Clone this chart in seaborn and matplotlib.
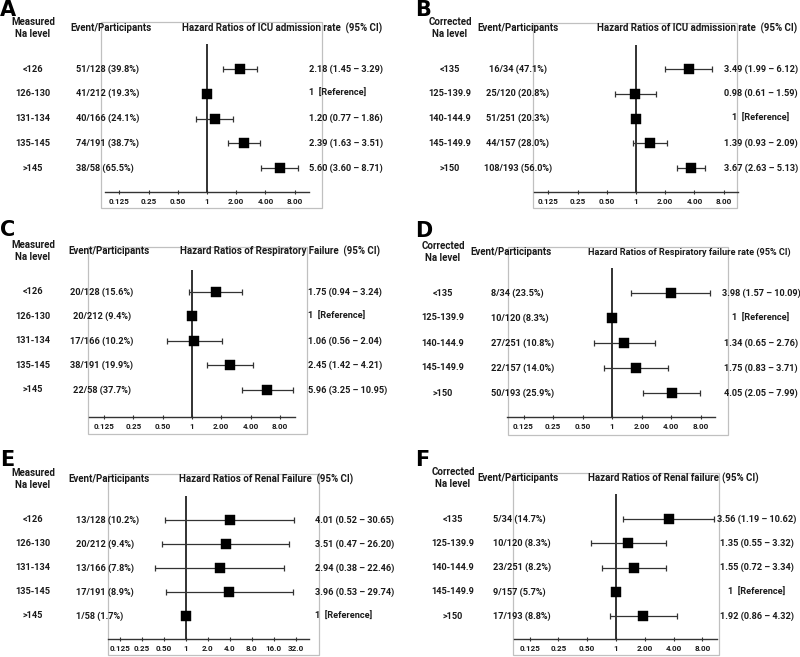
import numpy as np
import pandas as pd
import matplotlib
matplotlib.use("Agg")
import matplotlib.pyplot as plt
import matplotlib.transforms as mtransforms
from matplotlib.patches import Rectangle
from matplotlib.ticker import NullLocator
import seaborn as sns

# %%
# data
measured_levels = ["<126", "126-130", "131-134", "135-145", ">145"]
corrected_levels = ["<135", "125-139.9", "140-144.9", "145-149.9", ">150"]

a_events = ["51/128 (39.8%)", "41/212 (19.3%)", "40/166 (24.1%)", "74/191 (38.7%)", "38/58 (65.5%)"]
a_hr = [2.18, 1, 1.20, 2.39, 5.60]
a_lo = [1.45, 1, 0.77, 1.63, 3.60]
a_hi = [3.29, 1, 1.86, 3.51, 8.71]

b_events = ["16/34 (47.1%)", "25/120 (20.8%)", "51/251 (20.3%)", "44/157 (28.0%)", "108/193 (56.0%)"]
b_hr = [3.49, 0.98, 1, 1.39, 3.67]
b_lo = [1.99, 0.61, 1, 0.93, 2.63]
b_hi = [6.12, 1.59, 1, 2.09, 5.13]

c_events = ["20/128 (15.6%)", "20/212 (9.4%)", "17/166 (10.2%)", "38/191 (19.9%)", "22/58 (37.7%)"]
c_hr = [1.75, 1, 1.06, 2.45, 5.96]
c_lo = [0.94, 1, 0.56, 1.42, 3.25]
c_hi = [3.24, 1, 2.04, 4.21, 10.95]

d_events = ["8/34 (23.5%)", "10/120 (8.3%)", "27/251 (10.8%)", "22/157 (14.0%)", "50/193 (25.9%)"]
d_hr = [3.98, 1, 1.34, 1.75, 4.05]
d_lo = [1.57, 1, 0.65, 0.83, 2.05]
d_hi = [10.09, 1, 2.76, 3.71, 7.99]

e_events = ["13/128 (10.2%)", "20/212 (9.4%)", "13/166 (7.8%)", "17/191 (8.9%)", "1/58 (1.7%)"]
e_hr = [4.01, 3.51, 2.94, 3.96, 1]
e_lo = [0.52, 0.47, 0.38, 0.53, 1]
e_hi = [30.65, 26.20, 22.46, 29.74, 1]

f_events = ["5/34 (14.7%)", "10/120 (8.3%)", "23/251 (8.2%)", "9/157 (5.7%)", "17/193 (8.8%)"]
f_hr = [3.56, 1.35, 1.55, 1, 1.92]
f_lo = [1.19, 0.55, 0.72, 1, 0.86]
f_hi = [10.62, 3.32, 3.34, 1, 4.32]

ticks7 = [0.125, 0.25, 0.5, 1, 2, 4, 8]
ticklabels7 = ["0.125", "0.25", "0.50", "1", "2.00", "4.00", "8.00"]
ticks9 = [0.125, 0.25, 0.5, 1, 2, 4, 8, 16, 32]
ticklabels9 = ["0.125", "0.25", "0.50", "1", "2.0", "4.0", "8.0", "16.0", "32.0"]

# %%
W, H = 800, 657
sns.set_theme(style="white")
plt.rcParams["font.family"] = ["Roboto", "DejaVu Sans"]

fig = plt.figure(figsize=(W / 100, H / 100), dpi=100)
fig.patch.set_facecolor("white")

# layout in pixels: box, x of 1, px per doubling, first row y, row step,
# axis y, top of ref line, axis span (log2), text columns
panels = [
    dict(letter="A", title="Measured\nNa level", levels=measured_levels, events=a_events,
         hr=a_hr, lo=a_lo, hi=a_hi, ticks=ticks7, tlabels=ticklabels7,
         head="Hazard Ratios of ICU admission rate  (95% CI)", head2=None, hfs=7.0,
         box=(101, 22, 322, 208), refx=207, s=29.2, row0=69, step=24.8, axy=192, vtop=44, span=(-3.5, 3.5),
         lx=(0, 0), lvx=33, evx=76, eva="left", hrx=309, hra="left", ehx=70, hhx=182, hy=28),
    dict(letter="B", title="Corrected\nNa level", levels=corrected_levels, events=b_events,
         hr=b_hr, lo=b_lo, hi=b_hi, ticks=ticks7, tlabels=ticklabels7,
         head="Hazard Ratios of ICU admission rate  (95% CI)", head2=None, hfs=7.0,
         box=(533, 23, 737, 208), refx=636, s=29.2, row0=69, step=24.8, axy=192, vtop=45, span=(-3.5, 3.5),
         lx=(415, 0), lvx=450, evx=518, eva="center", hrx=761, hra="center", ehx=477, hhx=597, hy=28),
    dict(letter="C", title="Measured\nNa level", levels=measured_levels, events=c_events,
         hr=c_hr, lo=c_lo, hi=c_hi, ticks=ticks7, tlabels=ticklabels7,
         head="Hazard Ratios of Respiratory Failure  (95% CI)", head2=None, hfs=7.0,
         box=(88, 247, 307, 434), refx=192, s=29.3, row0=292, step=24.5, axy=417, vtop=270, span=(-3.5, 3.5),
         lx=(0, 220), lvx=33, evx=102, eva="center", hrx=308, hra="left", ehx=68, hhx=180, hy=251),
    dict(letter="D", title="Corrected\nNa level", levels=corrected_levels, events=d_events,
         hr=d_hr, lo=d_lo, hi=d_hi, ticks=ticks7, tlabels=ticklabels7,
         head="Hazard Ratios of Respiratory failure rate (95% CI)", head2=None, hfs=6.6,
         box=(508, 247, 728, 435), refx=612, s=29.5, row0=293, step=25.0, axy=417, vtop=268, span=(-3.55, 3.5),
         lx=(415, 221), lvx=443, evx=491, eva="left", hrx=761, hra="center", ehx=470, hhx=588, hy=252),
    dict(letter="E", title="Measured\nNa level", levels=measured_levels, events=e_events,
         hr=e_hr, lo=e_lo, hi=e_hi, ticks=ticks9, tlabels=ticklabels9,
         head="Hazard Ratios of Renal Failure  (95% CI)", head2=None, hfs=7.0,
         box=(108, 474, 319, 655), refx=186, s=21.9, row0=520, step=24.0, axy=639, vtop=496, span=(-3.55, 5.6),
         lx=(0, 450), lvx=33, evx=76, eva="left", hrx=315, hra="left", ehx=68, hhx=179, hy=479),
    dict(letter="F", title="Corrected\nNa level", levels=corrected_levels, events=f_events,
         hr=f_hr, lo=f_lo, hi=f_hi, ticks=ticks7, tlabels=ticklabels7,
         head="Hazard Ratios of Renal failure", head2=("(95% CI)", 722), hfs=7.0,
         box=(513, 473, 719, 655), refx=616, s=28.8, row0=519, step=24.3, axy=639, vtop=494, span=(-3.55, 3.5),
         lx=(415, 450), lvx=453, evx=493, eva="left", hrx=757, hra="center", ehx=477, hhx=588, hy=478),
]

dark = "#1a1a1a"
row_fs = 6.6
for p in panels:
    x0, y0, x1, y1 = p["box"]
    ax = fig.add_axes([x0 / W, 1 - y1 / H, (x1 - x0) / W, (y1 - y0) / H])
    ax.set_facecolor("none")

    n = len(p["hr"])
    df = pd.DataFrame({"row": np.arange(n), "hr": p["hr"], "lo": p["lo"], "hi": p["hi"]})

    # confidence intervals, reference rows have none
    ci = df[df["lo"] != df["hi"]]
    ax.errorbar(ci["hr"], ci["row"], xerr=[ci["hr"] - ci["lo"], ci["hi"] - ci["hr"]],
                fmt="none", ecolor="#333333", elinewidth=0.9, capsize=2.2, capthick=0.9, zorder=2)
    sns.scatterplot(data=df, x="hr", y="row", marker="s", s=48, color="black",
                    edgecolor="black", linewidth=0.3, ax=ax, zorder=3, legend=False)

    ax.set_xscale("log", base=2)
    ax.set_xlim(2 ** ((x0 - p["refx"]) / p["s"]), 2 ** ((x1 - p["refx"]) / p["s"]))
    ax.set_ylim((y1 - p["row0"]) / p["step"], (y0 - p["row0"]) / p["step"])
    axis_y = (p["axy"] - p["row0"]) / p["step"]
    top_y = (p["vtop"] - p["row0"]) / p["step"]

    ax.vlines(1, top_y, axis_y, color="#222222", lw=1.3, zorder=1)

    for sp in ["left", "right", "top"]:
        ax.spines[sp].set_visible(False)
    ax.spines["bottom"].set_position(("data", axis_y))
    ax.spines["bottom"].set_bounds(2 ** p["span"][0], 2 ** p["span"][1])
    ax.spines["bottom"].set_color("#333333")
    ax.spines["bottom"].set_linewidth(1.0)

    ax.set_xticks(p["ticks"])
    ax.set_xticklabels(p["tlabels"])
    ax.xaxis.set_minor_locator(NullLocator())
    ax.tick_params(axis="x", direction="inout", length=3, width=0.8, color="#333333",
                   pad=2.5, labelsize=5.8, labelcolor=dark, bottom=True)
    for t in ax.get_xticklabels():
        t.set_fontweight("bold")
    ax.set_yticks([])
    ax.set_xlabel("")
    ax.set_ylabel("")

    ax.add_patch(Rectangle((0, 0), 1, 1, transform=ax.transAxes, fill=False,
                           edgecolor="#c0c0c0", lw=0.9, clip_on=False, zorder=0))

    # text columns
    tr = mtransforms.blended_transform_factory(fig.transFigure, ax.transData)
    for i in range(n):
        ax.text(p["lvx"] / W, i, p["levels"][i], transform=tr, ha="center", va="center",
                fontsize=row_fs, fontweight="bold", color=dark)
        ax.text(p["evx"] / W, i, p["events"][i], transform=tr, ha=p["eva"], va="center",
                fontsize=row_fs, fontweight="bold", color=dark)
        if p["lo"][i] == p["hi"][i]:
            lab = "1  [Reference]"
        else:
            lab = f"{p['hr'][i]:.2f} ({p['lo'][i]:.2f} – {p['hi'][i]:.2f})"
        ax.text(p["hrx"] / W, i, lab, transform=tr, ha=p["hra"], va="center",
                fontsize=row_fs, fontweight="bold", color=dark)

    hy = 1 - p["hy"] / H
    fs = p["hfs"]
    fig.text(p["lvx"] / W, hy, p["title"], ha="center", va="center", fontsize=7.0,
             fontweight="bold", color=dark, linespacing=1.25)
    fig.text(p["ehx"] / W, hy, "Event/Participants", ha="left", va="center", fontsize=7.0,
             fontweight="bold", color=dark)
    fig.text(p["hhx"] / W, hy, p["head"], ha="left", va="center", fontsize=fs,
             fontweight="bold", color=dark)
    if p["head2"]:
        fig.text(p["head2"][1] / W, hy, p["head2"][0], ha="left", va="center", fontsize=fs,
                 fontweight="bold", color=dark)

    fig.text(p["lx"][0] / W, 1 - p["lx"][1] / H, p["letter"], ha="left", va="top",
             fontsize=15, fontweight="bold", color="black", family=["DejaVu Sans"])

fig.savefig("out.png", dpi=100)
